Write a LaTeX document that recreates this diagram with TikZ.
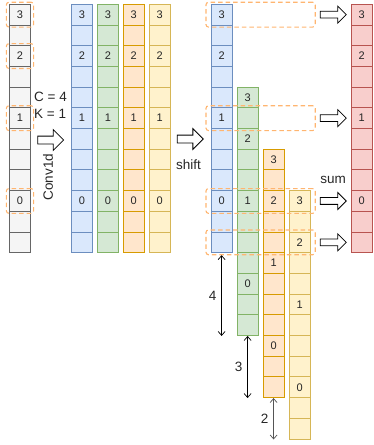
\documentclass[tikz,border=0pt]{standalone}
\usepackage{fontspec}
\setmainfont{Liberation Sans}
\usetikzlibrary{shapes.arrows,arrows.meta,fit,positioning}
\definecolor{fgray}{HTML}{F5F5F5}
\definecolor{dgray}{HTML}{666666}
\definecolor{fblue}{HTML}{DAE8FC}
\definecolor{dblue}{HTML}{6C8EBF}
\definecolor{fgreen}{HTML}{D5E8D4}
\definecolor{dgreen}{HTML}{82B366}
\definecolor{forange}{HTML}{FFE6CC}
\definecolor{dorange}{HTML}{D79B00}
\definecolor{fyellow}{HTML}{FFF2CC}
\definecolor{dyellow}{HTML}{D6B656}
\definecolor{fred}{HTML}{F8CECC}
\definecolor{dred}{HTML}{B85450}
\definecolor{hilite}{HTML}{FFB570}
\definecolor{txt}{HTML}{262626}
\definecolor{dimgray}{HTML}{555555}
\tikzstyle{cell} = [rectangle, minimum width=20.7pt, minimum height=20.7pt, inner sep=0pt, line width=0.9pt, text=txt, font=\fontsize{11}{11}\selectfont]
\tikzstyle{hollow} = [single arrow, draw=black, fill=white, line width=0.8pt, minimum height=26pt, inner xsep=0pt, inner ysep=3.5pt, single arrow head extend=6.5pt]
\tikzstyle{dashbox} = [draw=hilite, dashed, dash pattern=on 4.5pt off 3pt, line width=1.1pt, rounded corners=2.5pt]
\tikzstyle{dim} = [<->, >={Straight Barb[length=4pt,width=7pt]}, line width=0.7pt]
\tikzstyle{lbl} = [text=txt, font=\fontsize{13.5}{14}\selectfont]
\newcommand\celllabel[1]{\ifcase#1\relax 3\or\or 2\or\or\or 1\or\or\or\or 0\fi}
\begin{document}
\begin{tikzpicture}[x=1pt, y=-1pt, node distance=20.7pt]
        \useasboundingbox (0,0) rectangle (373,445);
        % columns: name / x / first row / colour
        \foreach \nm/\cx/\offs/\clr in {x/20/0/gray, a/82/0/blue, b/107.9/0/green, c/133.8/0/orange, d/159.7/0/yellow, sa/221.6/0/blue, sb/247.6/4/green, sc/273.6/7/orange, sd/299.6/9/yellow, y/361.6/0/red}{
            \node(\nm0) [cell, fill=f\clr, draw=d\clr] at (\cx, 14.65+20.7*\offs) {\celllabel{0}};
            \foreach \row [remember=\row as \prev (initially 0)] in {1,...,11}
                \node(\nm\row) [cell, fill=f\clr, draw=d\clr, below of=\nm\prev] {\celllabel{\row}};
        }
        % highlights
        \foreach \row in {0,2,5,9}
            \node(hx\row) [dashbox, fit=(x\row), inner xsep=2.8pt, inner ysep=1.6pt] {};
        \foreach \row in {0,5,9,11}
            \node(hs\row) [dashbox, fit=(sa\row)(sa\row -| sd9.east), inner xsep=4.8pt, inner ysep=1.6pt] {};
        % big arrows
        \node(conv) [hollow] at (48.7,140) {};
        \node(shift) [hollow] at (188.3,139) {};
        \foreach \row in {0,5,9,11}
            \node(sum\row) [hollow, inner ysep=3pt, single arrow head extend=5pt, left=4pt of y\row] {};
        % texts
        \node(cval) [lbl, anchor=west] at (30.7,97) {C = 4};
        \node(kval) [lbl, anchor=west] at (30.7,114) {K = 1};
        \node(convtxt) [lbl, rotate=90] at (48,177) {Conv1d};
        \node(shifttxt) [lbl] at (188.5,164.5) {shift};
        \node(sumtxt) [lbl] at (333,180) {sum};
        % shift lengths
        \draw [dim] ([yshift=-2pt]sa11.south) -- (sa11.south |- sb11.south) node[lbl, midway, left=1.5pt] {4};
        \draw [dim] (sb11.south) -- (sb11.south |- sc11.south) node[lbl, midway, left=1.5pt] {3};
        \draw [dim, draw=dimgray] (sc11.south) -- (sc11.south |- sd11.south) node[lbl, midway, left=1.5pt] {2};
    \end{tikzpicture}
\end{document}
